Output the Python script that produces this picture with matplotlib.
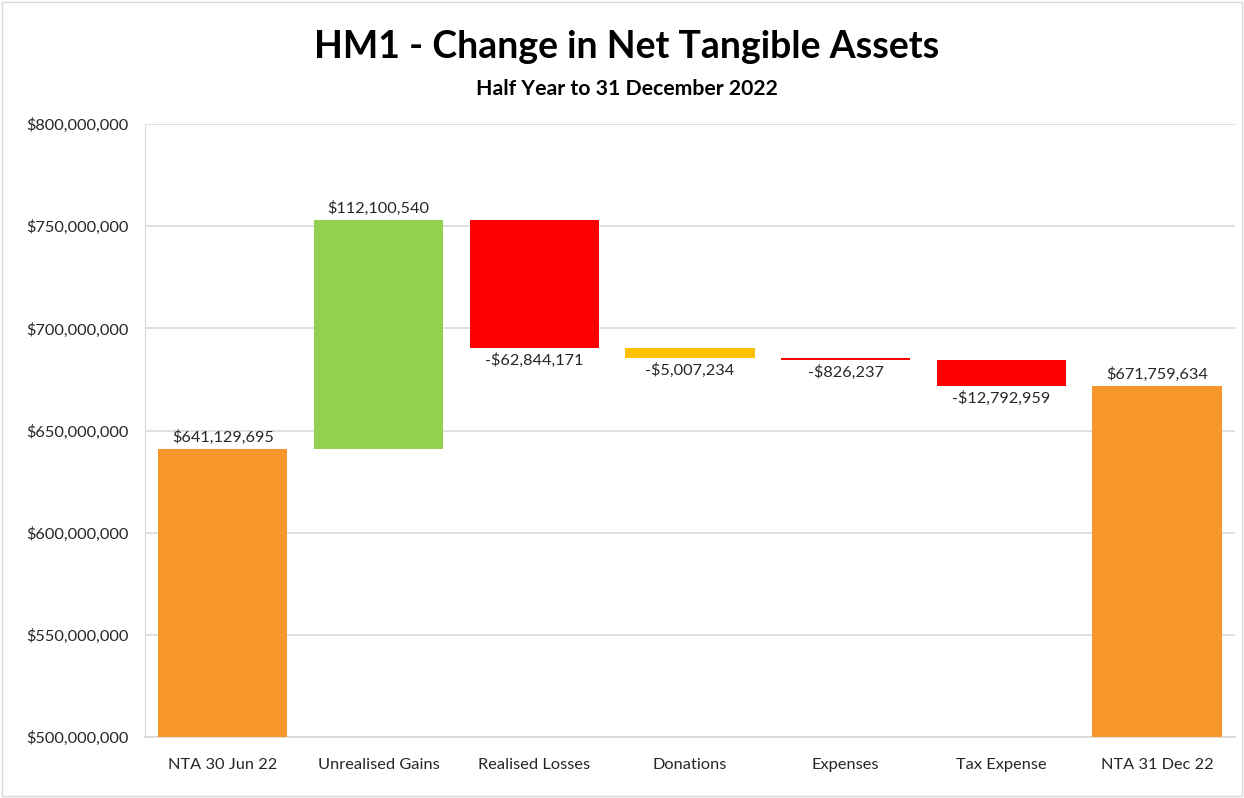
import numpy as np
import matplotlib
matplotlib.use("Agg")
import matplotlib.pyplot as plt
from matplotlib.patches import Rectangle
from matplotlib.ticker import FuncFormatter

# Datos del grafico de cascada
categorias = ["NTA 30 Jun 22", "Unrealised Gains", "Realised Losses", "Donations",
              "Expenses", "Tax Expense", "NTA 31 Dec 22"]
nta_inicio = 641129695
cambios = [112100540, -62844171, -5007234, -826237, -12792959]
nta_fin = 671759634
colores = ["#F7962B", "#92D050", "#FF0000", "#FFC000", "#FF0000", "#FF0000", "#F7962B"]

BASE = 500_000_000
COL_GRID = "#D9D9D9"
COL_TEXTO = "#262626"
FUENTE = ["Lato", "DejaVu Sans"]

plt.rcParams["font.family"] = FUENTE

# posiciones de cada barra
acum = np.cumsum([nta_inicio] + cambios)
inicio_cambios = acum[:-1]
fin_cambios = acum[1:]
bottoms = [BASE] + list(np.minimum(inicio_cambios, fin_cambios)) + [BASE]
alturas = [nta_inicio - BASE] + [abs(c) for c in cambios] + [nta_fin - BASE]
valores = [nta_inicio] + cambios + [nta_fin]

fig = plt.figure(figsize=(12.44, 7.98), dpi=100)
fig.patch.set_facecolor("white")
fig.add_artist(Rectangle((0.002, 0.002), 0.996, 0.996, transform=fig.transFigure,
                         fill=False, edgecolor="#D9D9D9", linewidth=1))

ax = fig.add_axes([0.1166, 0.0764, 0.876, 0.7682])
x = np.arange(len(categorias))
ax.bar(x, alturas, bottom=bottoms, width=0.83, color=colores, zorder=3)

for i, v in enumerate(valores):
    if i == 0 or i == len(valores) - 1 or v > 0:
        y = bottoms[i] + alturas[i]
        ax.annotate(f"${v:,.0f}", (i, y), xytext=(0, 3),
                    textcoords="offset points", ha="center", va="bottom",
                    fontsize=11.7, color=COL_TEXTO)
    else:
        y = bottoms[i]
        ax.annotate(f"-${-v:,.0f}", (i, y), xytext=(0, -3.5),
                    textcoords="offset points", ha="center", va="top",
                    fontsize=11.7, color=COL_TEXTO)

ax.set_xlim(-0.5, len(categorias) - 0.5)
ax.set_ylim(BASE, 800_000_000)
ax.set_yticks(np.arange(BASE, 800_000_001, 50_000_000))
ax.yaxis.set_major_formatter(FuncFormatter(lambda v, p: f"${v:,.0f}"))
ax.set_xticks(x)
ax.set_xticklabels(categorias)
ax.tick_params(axis="both", length=0, labelsize=11.8, colors=COL_TEXTO)
ax.tick_params(axis="x", pad=15)
ax.tick_params(axis="y", pad=12)
ax.grid(axis="y", color=COL_GRID, linewidth=1.2, zorder=0)
for lado in ["top", "right"]:
    ax.spines[lado].set_visible(False)
ax.spines["left"].set_color(COL_GRID)
ax.spines["bottom"].set_color(COL_GRID)
ax.spines["bottom"].set_linewidth(1.2)

fig.text(0.504, 0.941, "HM1 - Change in Net Tangible Assets", ha="center", va="center",
         fontsize=27, fontweight="bold", color="black")
fig.text(0.504, 0.889, "Half Year to 31 December 2022", ha="center", va="center",
         fontsize=15.3, fontweight="bold", color="black")

fig.savefig("out.png", dpi=100, facecolor="white")
